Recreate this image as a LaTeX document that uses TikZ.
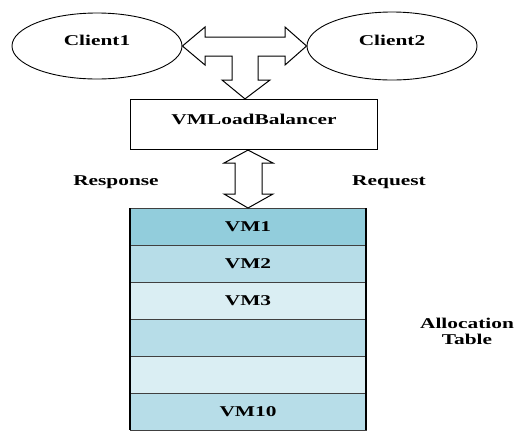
\documentclass[tikz,border=0pt]{standalone}
\usepackage{fontspec}
\newfontfamily\figfont[FakeStretch=1.43]{Liberation Serif}
\usetikzlibrary{calc,positioning,shapes.geometric}
\definecolor{vmdark}{RGB}{146,205,220}
\definecolor{vmmid}{RGB}{183,221,232}
\definecolor{vmlight}{RGB}{218,238,243}
\tikzset{lbl/.style={font=\figfont\bfseries\fontsize{15}{16}\selectfont},
vmrow/.style={draw=black!75,line width=1pt,minimum width=236bp,minimum height=37bp,inner sep=0pt,outer sep=0pt,lbl},
fatarrow/.style={draw,line width=1pt,fill=white,line join=miter}}
\begin{document}
\begin{tikzpicture}[x=1bp,y=-1bp]
\useasboundingbox (0,0) rectangle (515,430);
\node[ellipse,draw,line width=0.9pt,minimum width=170bp,minimum height=66bp,text depth=12bp,lbl](c1) at (97,46){Client1};
\node[ellipse,draw,line width=0.9pt,minimum width=170bp,minimum height=68bp,text depth=12bp,lbl](c2) at (392,46){Client2};
\node[draw,line width=1.2pt,minimum width=247bp,minimum height=50bp,text depth=11bp,lbl](lb) at (254,124.5){VMLoadBalancer};
% allocation table
\node[vmrow,fill=vmdark,anchor=north](vm1) at (248,208){VM1};
\node[vmrow,fill=vmmid,below=0pt of vm1](vm2){VM2};
\node[vmrow,fill=vmlight,below=0pt of vm2](vm3){VM3};
\node[vmrow,fill=vmmid,below=0pt of vm3](vm4){};
\node[vmrow,fill=vmlight,below=0pt of vm4](vm5){};
\node[vmrow,fill=vmmid,below=0pt of vm5](vm10){VM10};
\draw[black,line width=1.2pt](vm1.north west)--(vm10.south west) (vm1.north east)--(vm10.south east);
% arrows
\draw[fatarrow](c1.east)--(205,27)--(205,37)--(285,37)--(285,27)--(c2.west)--(285,65)--(285,56)--(258,56)--(258,80)--(270,80)--(245,0 |- lb.north)--(222,80)--(232,80)--(232,56)--(205,56)--(205,65)--cycle;
\draw[fatarrow](vm1.north |- lb.south)--(273,163)--(262,163)--(262,194)--(273,194)--(vm1.north)--(224,194)--(235,194)--(235,163)--(224,163)--cycle;
\node[lbl](resp) at (116,182){Response};
\node[lbl](req) at (389,182){Request};
\node[lbl,align=center](alloc) at (467,331){Allocation\\Table};
\end{tikzpicture}
\end{document}
